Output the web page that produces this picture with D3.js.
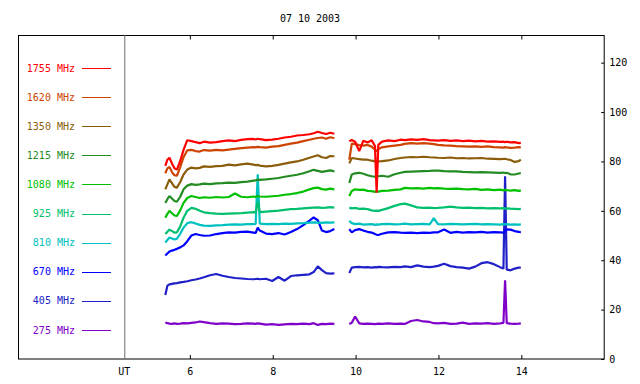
<!DOCTYPE html>
<html lang="en">
<head>
<meta charset="UTF-8">
<title>07 10 2003</title>
<script src="https://d3js.org/d3.v7.min.js"></script>
<style>
    body { margin: 0; background: #fff; }
    text { font-family: "DejaVu Sans Mono", monospace; font-size: 10px; fill: #000; }
    .axis path { display: none; }
    .axis line { stroke: #000; }
    .trace { fill: none; stroke-width: 2.2; stroke-linejoin: bevel; }
</style>
</head>
<body>
<div id="chart"></div>
<script>
// time (UT hours) of the two observing runs
const timesEarly = [5.42, 5.47, 5.52, 5.58, 5.64, 5.7, 5.78, 5.86, 5.95, 6.05, 6.15, 6.25, 6.35, 6.5, 6.65, 6.8, 6.95, 7.1, 7.25, 7.4,
    7.55, 7.6, 7.65, 7.7, 7.85, 8.0, 8.15, 8.3, 8.45, 8.6, 8.75, 8.9, 9.0, 9.1, 9.2, 9.3, 9.4, 9.5];
const timesLate = [9.86, 9.92, 10.0, 10.1, 10.2, 10.3, 10.4, 10.48, 10.52, 10.56, 10.65, 10.8, 10.95, 11.1, 11.2, 11.35, 11.5, 11.65, 11.8, 11.9,
    12.0, 12.15, 12.3, 12.45, 12.6, 12.75, 12.9, 13.05, 13.2, 13.35, 13.5, 13.58, 13.62, 13.66, 13.75, 13.85, 13.95, 14.0];

const freqLabels = ["1755 MHz", "1620 MHz", "1350 MHz", "1215 MHz", "1080 MHz", "925 MHz", "810 MHz", "670 MHz", "405 MHz", "275 MHz"];
const freqColors = ["#ff0000", "#cc4400", "#8b5d0b", "#228b22", "#00c000", "#00bf6e", "#00c0c0", "#0000ff", "#2020c8", "#7f00c8"];

// flux values, early run then late run
const v1755 = [78.0, 80.5, 81.3, 79.0, 77.0, 76.5, 80.0, 84.5, 88.4, 88.0, 87.6, 87.2, 87.8, 87.4, 87.6, 88.0, 88.3, 88.0, 88.5, 88.8,
    88.9, 88.7, 89.0, 88.8, 88.4, 88.6, 89.0, 89.5, 89.8, 90.3, 90.5, 90.8, 91.2, 91.8, 91.3, 90.9, 91.4, 91.0,
    88.0, 88.5, 87.8, 84.0, 88.2, 87.5, 88.4, 86.0, 67.1, 86.5, 87.8, 88.3, 88.0, 88.6, 88.4, 88.7, 88.5, 88.8, 88.4, 88.3,
    88.2, 88.4, 88.1, 88.3, 88.0, 88.2, 87.9, 88.1, 87.8, 87.9, 87.7, 87.8, 87.6, 87.8, 87.5, 87.6, 87.2, 87.3];
const v1620 = [75.0, 77.0, 77.6, 75.5, 74.2, 74.0, 77.5, 81.5, 84.3, 84.5, 84.0, 83.8, 84.4, 84.2, 84.5, 84.3, 84.6, 84.9, 85.2, 85.4,
    85.6, 85.5, 85.7, 85.6, 85.4, 85.8, 86.0, 86.5, 87.0, 87.4, 88.0, 88.6, 89.0, 89.3, 89.5, 89.0, 89.6, 89.2,
    80.5, 87.0, 86.8, 86.4, 86.2, 86.5, 85.8, 84.5, 84.0, 84.8, 85.5, 85.9, 86.2, 86.5, 86.9, 87.2, 87.0, 87.2, 87.0, 86.8,
    86.5, 86.3, 86.2, 86.0, 85.9, 85.8, 85.9, 85.7, 85.9, 85.6, 85.5, 85.4, 85.6, 85.5, 85.3, 85.4, 85.6, 85.5];
const v1350 = [68.5, 70.5, 72.5, 71.0, 69.5, 69.2, 71.5, 74.5, 76.5, 77.3, 77.0, 77.2, 77.8, 77.6, 77.9, 78.0, 78.5, 78.2, 78.6, 78.9,
    78.5, 78.3, 78.4, 78.1, 77.8, 78.0, 78.4, 78.9, 79.4, 79.8, 80.5, 81.3, 81.8, 82.3, 81.5, 81.2, 82.0, 81.9,
    79.0, 81.2, 81.0, 80.7, 80.5, 80.5, 80.1, 79.8, 79.5, 79.8, 79.9, 80.2, 80.8, 81.2, 81.4, 81.6, 81.5, 81.7, 81.5, 81.4,
    81.3, 81.2, 81.4, 81.1, 81.2, 81.0, 81.1, 81.2, 80.9, 80.8, 80.7, 80.8, 80.9, 80.7, 80.4, 79.6, 79.9, 80.5];
const v1215 = [63.0, 64.5, 65.8, 64.8, 63.8, 63.5, 65.5, 68.5, 70.0, 70.6, 70.3, 70.5, 70.8, 70.6, 70.9, 71.0, 71.2, 71.1, 71.4, 71.6,
    72.0, 72.1, 72.4, 72.3, 72.5, 72.8, 73.1, 73.6, 74.0, 74.4, 75.0, 75.8, 76.4, 76.0, 75.6, 75.9, 76.2, 75.8,
    71.1, 74.5, 75.0, 75.2, 74.8, 74.2, 73.8, 73.6, 73.9, 73.8, 74.0, 73.6, 74.6, 75.2, 75.6, 75.7, 75.8, 75.9, 76.0, 76.1,
    76.1, 75.9, 75.8, 75.8, 75.6, 75.5, 75.4, 75.5, 75.4, 75.3, 75.2, 75.3, 75.1, 75.2, 74.6, 74.5, 74.9, 75.1];
const v1080 = [57.0, 58.6, 59.8, 58.8, 57.9, 57.7, 60.0, 63.0, 65.0, 65.8, 65.4, 65.0, 65.3, 65.1, 65.4, 65.2, 65.4, 66.8, 65.5, 65.3,
    65.6, 65.4, 65.8, 65.6, 65.5, 65.7, 65.9, 66.3, 66.6, 67.0, 67.6, 68.5, 69.0, 69.2, 68.6, 68.4, 68.8, 68.5,
    65.8, 67.8, 68.5, 68.3, 68.4, 67.9, 67.8, 67.5, 67.7, 67.6, 67.9, 68.0, 68.3, 68.5, 69.1, 68.9, 69.0, 68.8, 69.1, 68.9,
    69.0, 68.8, 68.7, 68.8, 68.6, 68.5, 68.7, 68.3, 68.5, 68.2, 68.4, 68.1, 68.3, 68.2, 68.0, 68.2, 67.9, 68.1];
const v925 = [50.4, 51.3, 52.2, 51.6, 51.0, 51.1, 53.5, 57.0, 59.8, 61.0, 60.6, 59.8, 59.2, 58.9, 58.7, 58.6, 58.7, 58.8, 58.9, 59.1,
    59.3, 59.2, 63.5, 59.3, 59.5, 59.7, 59.9, 60.2, 60.5, 60.6, 60.8, 61.0, 61.1, 61.2, 61.0, 61.1, 61.3, 61.1,
    61.1, 60.8, 61.0, 60.6, 60.7, 60.5, 60.0, 59.8, 59.9, 59.8, 60.2, 60.9, 61.8, 62.5, 62.7, 62.0, 61.2, 61.0, 61.1, 60.9,
    61.0, 61.2, 61.5, 61.2, 61.0, 61.1, 60.9, 61.0, 60.8, 60.9, 60.8, 60.9, 60.7, 60.8, 60.7, 60.6, 60.5, 60.6];
const v810 = [47.0, 48.0, 49.0, 48.6, 48.2, 48.5, 50.5, 53.0, 54.8, 55.2, 54.7, 54.1, 53.8, 53.7, 53.9, 54.0, 54.2, 54.3, 54.2, 54.4,
    54.4, 54.5, 74.6, 54.6, 54.4, 54.5, 54.4, 54.6, 54.5, 54.7, 54.8, 55.0, 55.1, 55.0, 54.9, 55.1, 55.0, 55.1,
    55.8, 54.8, 54.4, 54.6, 54.2, 54.3, 54.4, 54.1, 54.3, 54.2, 54.4, 54.5, 54.3, 54.4, 54.6, 54.3, 54.4, 54.5, 54.3, 56.8,
    54.4, 54.3, 54.5, 54.4, 54.3, 54.4, 54.5, 54.3, 54.4, 54.3, 54.2, 54.4, 54.3, 54.4, 54.2, 54.3, 54.2, 54.3];
const v670 = [41.7, 42.5, 43.3, 43.7, 44.0, 44.4, 45.0, 45.8, 47.5, 49.8, 50.4, 50.0, 49.7, 49.8, 50.4, 50.8, 51.1, 51.0, 51.3, 51.4,
    51.0, 50.8, 53.0, 51.8, 50.6, 50.4, 50.8, 50.2, 51.2, 52.4, 54.0, 55.8, 57.1, 56.0, 51.8, 51.2, 51.6, 52.4,
    52.4, 51.1, 52.0, 52.4, 51.8, 51.3, 51.0, 50.4, 50.1, 50.0, 50.5, 51.1, 51.2, 51.0, 50.9, 51.0, 50.8, 51.0, 50.9, 51.1,
    51.1, 52.2, 50.9, 51.3, 51.0, 51.2, 51.1, 51.3, 51.0, 51.2, 51.1, 51.0, 51.6, 52.3, 52.2, 51.6, 51.3, 51.0];
const v405 = [25.7, 29.5, 30.0, 30.2, 30.4, 30.5, 30.8, 31.0, 31.3, 31.7, 32.0, 32.4, 32.9, 33.7, 34.2, 33.5, 33.0, 32.6, 32.4, 32.2,
    32.1, 32.2, 32.3, 32.1, 32.3, 31.4, 33.0, 31.5, 33.4, 33.7, 33.9, 34.1, 35.0, 37.3, 35.8, 34.6, 34.4, 34.5,
    34.6, 36.8, 37.0, 37.1, 36.9, 37.0, 36.8, 37.0, 36.9, 37.1, 37.0, 36.9, 37.1, 37.0, 37.3, 37.0, 37.7, 37.2, 37.0, 37.2,
    37.5, 38.4, 37.4, 37.0, 36.8, 36.4, 37.2, 38.6, 39.0, 38.2, 37.0, 36.4, 73.8, 36.0, 35.7, 36.4, 36.8, 36.8];
const v275 = [14.6, 14.3, 14.1, 14.0, 14.2, 14.0, 14.1, 14.3, 14.2, 14.4, 14.6, 15.0, 14.7, 14.3, 14.0, 14.2, 14.1, 13.9, 14.0, 14.2,
    14.1, 14.0, 14.2, 14.1, 13.7, 13.9, 13.6, 13.8, 14.0, 13.9, 14.1, 13.9, 14.3, 13.6, 14.0, 13.9, 14.1, 14.0,
    14.0, 14.5, 17.0, 14.2, 14.0, 14.1, 14.0, 13.9, 14.0, 14.1, 14.0, 14.2, 14.0, 14.1, 14.0, 15.2, 15.6, 15.0, 14.8, 14.3,
    14.2, 14.4, 14.0, 14.1, 14.5, 14.0, 14.2, 14.1, 14.3, 14.0, 14.2, 14.4, 31.7, 14.3, 14.1, 14.0, 14.1, 14.2];

const seriesValues = [v1755, v1620, v1350, v1215, v1080, v925, v810, v670, v405, v275];
const yTicks = [0, 20, 40, 60, 80, 100, 120];
const xTicks = [6, 8, 10, 12, 14];

const width = 640, height = 384;
const frame = { left: 18, top: 35, right: 603.7, bottom: 358.5 };
const utLine = 124.3;

const svg = d3.select("#chart")
    .append("svg")
    .attr("width", width)
    .attr("height", height);

// scales
const x = d3.scaleLinear().domain([4.43, 16]).range([utLine, frame.right]);
const y = d3.scaleLinear().domain([0, 131]).range([frame.bottom, frame.top]);

// title
svg.append("text")
    .attr("x", 310)
    .attr("y", 22)
    .attr("text-anchor", "middle")
    .text("07 10 2003");

// frame
svg.append("rect")
    .attr("x", frame.left + 0.5)
    .attr("y", frame.top + 0.5)
    .attr("width", frame.right - frame.left)
    .attr("height", frame.bottom - frame.top)
    .attr("fill", "none")
    .attr("stroke", "#000");

svg.append("line")
    .attr("x1", utLine + 0.5).attr("x2", utLine + 0.5)
    .attr("y1", frame.top).attr("y2", frame.bottom)
    .attr("stroke", "#707070");

// axes
svg.append("g")
    .attr("class", "axis")
    .attr("transform", `translate(0.5,${frame.bottom + 0.5})`)
    .call(d3.axisBottom(x).tickValues(xTicks).tickSizeInner(-4).tickSizeOuter(0).tickPadding(9).tickFormat(d3.format("d")));

svg.append("g")
    .attr("class", "axis")
    .attr("transform", `translate(0.5,${frame.top + 0.5})`)
    .call(d3.axisTop(x).tickValues(xTicks).tickSizeInner(-4).tickSizeOuter(0).tickFormat(""));

svg.append("g")
    .attr("class", "axis")
    .attr("transform", `translate(${frame.right + 0.5},0.5)`)
    .call(d3.axisRight(y).tickValues(yTicks).tickSizeInner(-3).tickSizeOuter(0).tickPadding(5));

svg.append("text")
    .attr("x", utLine)
    .attr("y", 375)
    .attr("text-anchor", "middle")
    .text("UT");

// legend
const legendY = d3.scaleLinear().domain([0, 9]).range([68, 330]);
const legend = svg.append("g");
freqLabels.forEach((label, i) => {
    legend.append("text")
        .attr("x", 75)
        .attr("y", legendY(i))
        .attr("dy", "0.35em")
        .attr("text-anchor", "end")
        .style("fill", freqColors[i])
        .text(label);
    legend.append("line")
        .attr("x1", 82).attr("x2", 111)
        .attr("y1", Math.round(legendY(i)) + 0.5).attr("y2", Math.round(legendY(i)) + 0.5)
        .attr("stroke", freqColors[i]);
});

// traces, drawn low frequency first so 1755 sits on top
const line = d3.line()
    .x(d => x(d[0]))
    .y(d => y(d[1]));

const nEarly = timesEarly.length;
for (let i = seriesValues.length - 1; i >= 0; i--) {
    const vals = seriesValues[i];
    const early = timesEarly.map((t, j) => [t, vals[j]]);
    const late = timesLate.map((t, j) => [t, vals[nEarly + j]]);
    [early, late].forEach(seg => {
        svg.append("path")
            .attr("class", "trace")
            .attr("stroke", freqColors[i])
            .attr("d", line(seg));
    });
}
</script>
</body>
</html>
